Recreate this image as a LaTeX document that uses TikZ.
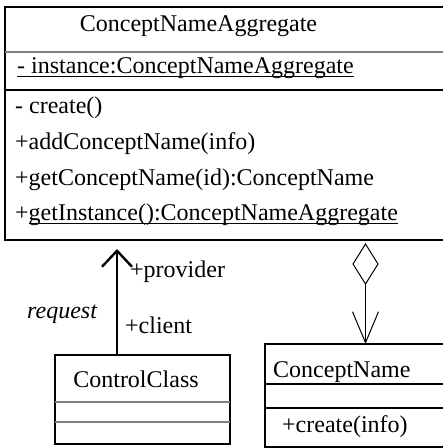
\documentclass[tikz,border=0pt]{standalone}
\usepackage{fontspec}
\setmainfont{Liberation Serif}
\usetikzlibrary{arrows.meta,shapes.geometric}
\newcommand\ulx[1]{\setbox0\hbox{#1}\rlap{\rule[-4pt]{\wd0}{1.4pt}}\box0}
\begin{document}
\begin{tikzpicture}[x=1pt,y=-1pt, font=\fontsize{24}{28}\selectfont,
  frame/.style={line width=1.2pt},
  txt/.style={inner sep=0pt, anchor=base west},
  bsep/.style={line width=1.2pt},
  gsep/.style={line width=1.2pt, draw=gray},
  tsep/.style={line width=2pt}]
\useasboundingbox (0,0) rectangle (443,448);
\clip (0,0) rectangle (443,448);
% ConceptNameAggregate
\coordinate (aggNW) at (5,7);
\coordinate (aggSE) at (448,240);
\draw[frame] (aggNW) rectangle (aggSE);
\coordinate (aggH) at (5,52);
\coordinate (aggA) at (5,90);
\draw[gsep] (aggH) -- (aggH -| aggSE);
\draw[bsep] (aggA) -- (aggA -| aggSE);
\node[inner sep=0pt, anchor=base] (title) at (198.5,31) {ConceptNameAggregate};
\node[txt] (attr) at (17,73) {\ulx{- instance:ConceptNameAggregate}};
\node[txt] (m1) at (15,113) {- create()};
\node[txt] (m2) at (15,149) {+addConceptName(info)};
\node[txt] (m3) at (15,185) {+getConceptName(id):ConceptName};
\node[txt] (m4) at (15,220) {+\ulx{getInstance():ConceptNameAggregate}};
% ControlClass
\coordinate (ccNW) at (55,355);
\coordinate (ccSE) at (230,444);
\draw[frame] (ccNW) rectangle (ccSE);
\coordinate (ccA) at (55,402);
\coordinate (ccB) at (55,422);
\draw[gsep] (ccA) -- (ccA -| ccSE);
\draw[gsep] (ccB) -- (ccB -| ccSE);
\node[inner sep=0pt, anchor=base] (ccname) at (136,387) {ControlClass};
% ConceptName
\coordinate (cnNW) at (265,344);
\coordinate (cnSE) at (448,447);
\draw[frame] (cnNW) rectangle (cnSE);
\coordinate (cnA) at (265,384);
\coordinate (cnB) at (265,408);
\draw[tsep] (cnA) -- (cnA -| cnSE);
\draw[bsep] (cnB) -- (cnB -| cnSE);
\node[txt] (cnname) at (273,377) {ConceptName};
\node[txt] (cnop) at (282,432) {+create(info)};
% request association
\coordinate (tip) at (117,249);
\draw[line width=2.4pt, -{Straight Barb[length=16pt,width=30pt]}] (ccNW -| tip) -- (tip);
\node[txt] (prov) at (130,277) {+provider};
\node[txt] (req) at (27,318) {\itshape request};
\node[txt] (cli) at (125,333) {+client};
% aggregation
\coordinate (dtop) at (365.5,244);
\draw[line width=1pt] (dtop) -- ++(12.5,20) -- ++(-12.5,20) -- ++(-12.5,-20) -- cycle;
\coordinate (dbot) at (365.5,284);
\draw[line width=1pt, -{Straight Barb[length=31pt,width=26pt]}] (dbot) -- (dbot |- cnNW);
\end{tikzpicture}
\end{document}
